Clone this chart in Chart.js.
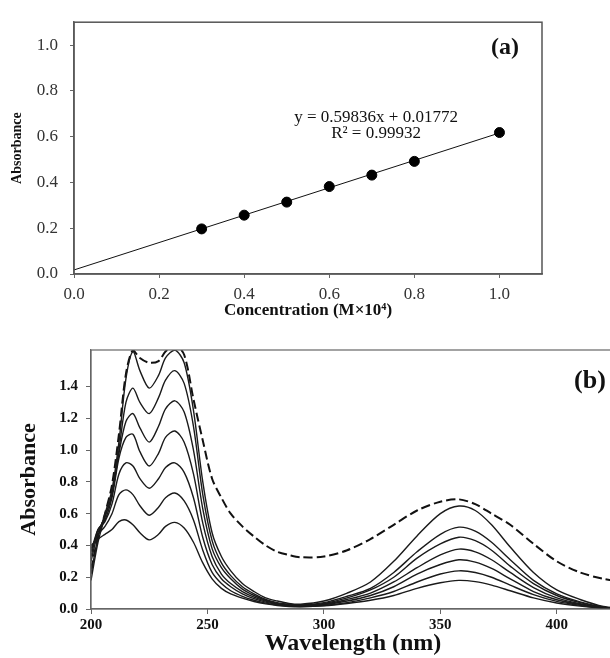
<!DOCTYPE html>
<html>
<head>
<meta charset="utf-8">
<script src="https://cdn.jsdelivr.net/npm/chart.js@4.4.1/dist/chart.umd.min.js"></script>
<style>
  html, body { margin: 0; padding: 0; background: #fff; overflow: hidden; }
  #boxA { position: absolute; left: 0; top: 0; width: 610px; height: 330px; }
  #boxB { position: absolute; left: 0; top: 330px; width: 620px; height: 328px; }
</style>
</head>
<body>
<div id="boxA"><canvas id="chartA"></canvas></div>
<div id="boxB"><canvas id="chartB"></canvas></div>
<script>
// (a) calibration
const CONC = [0.3, 0.4, 0.5, 0.6, 0.7, 0.8, 1.0];
const ABS_A = [0.197, 0.257, 0.314, 0.382, 0.432, 0.492, 0.618];
const SLOPE = 0.59836;
const INTERCEPT = 0.01772;
const R2 = 0.99932;
const A_TICKS = [0, 0.2, 0.4, 0.6, 0.8, 1.0];

// (b) spectra
const WAVE = [200, 203, 206, 209, 212, 215, 218, 221, 225, 229, 232, 236, 240, 244, 248, 252, 256, 260, 265, 270,
  275, 280, 285, 290, 300, 310, 320, 330, 340, 350, 358, 365, 372, 380, 390, 400, 410, 420, 430];
const SPEC_1 = [0.22, 0.45, 0.60, 0.75, 1.05, 1.45, 1.62, 1.50, 1.39, 1.47, 1.58, 1.63, 1.55, 1.25, 0.80, 0.48, 0.33, 0.24, 0.16, 0.11,
  0.07, 0.05, 0.035, 0.03, 0.05, 0.10, 0.17, 0.30, 0.46, 0.60, 0.648, 0.62, 0.53, 0.39, 0.23, 0.12, 0.06, 0.016, 0.0];
const SPEC_2 = [0.18, 0.42, 0.58, 0.72, 1.00, 1.30, 1.39, 1.30, 1.23, 1.33, 1.44, 1.50, 1.42, 1.15, 0.72, 0.43, 0.29, 0.21, 0.14, 0.095,
  0.06, 0.04, 0.03, 0.025, 0.04, 0.08, 0.13, 0.23, 0.36, 0.47, 0.515, 0.49, 0.42, 0.31, 0.18, 0.095, 0.045, 0.012, 0.0];
const SPEC_3 = [0.30, 0.48, 0.58, 0.72, 0.98, 1.18, 1.23, 1.14, 1.05, 1.15, 1.26, 1.31, 1.24, 1.00, 0.63, 0.38, 0.26, 0.19, 0.125, 0.085,
  0.055, 0.035, 0.027, 0.022, 0.035, 0.07, 0.12, 0.20, 0.32, 0.41, 0.452, 0.43, 0.37, 0.27, 0.16, 0.085, 0.04, 0.01, 0.0];
const SPEC_4 = [0.33, 0.50, 0.56, 0.70, 0.95, 1.08, 1.10, 0.99, 0.90, 0.98, 1.08, 1.12, 1.05, 0.85, 0.54, 0.33, 0.22, 0.16, 0.11, 0.075,
  0.05, 0.032, 0.024, 0.02, 0.03, 0.06, 0.10, 0.17, 0.26, 0.34, 0.377, 0.36, 0.31, 0.23, 0.135, 0.07, 0.033, 0.008, 0.0];
const SPEC_5 = [0.36, 0.50, 0.55, 0.66, 0.85, 0.92, 0.90, 0.82, 0.76, 0.82, 0.89, 0.92, 0.86, 0.70, 0.45, 0.28, 0.19, 0.14, 0.095, 0.065,
  0.043, 0.028, 0.02, 0.018, 0.027, 0.05, 0.085, 0.14, 0.22, 0.28, 0.31, 0.295, 0.255, 0.19, 0.11, 0.058, 0.028, 0.007, 0.0];
const SPEC_6 = [0.38, 0.47, 0.52, 0.60, 0.72, 0.75, 0.72, 0.65, 0.59, 0.64, 0.70, 0.73, 0.68, 0.56, 0.37, 0.23, 0.16, 0.115, 0.08, 0.055,
  0.037, 0.025, 0.018, 0.015, 0.022, 0.04, 0.07, 0.11, 0.17, 0.22, 0.24, 0.23, 0.20, 0.15, 0.09, 0.048, 0.023, 0.006, 0.0];
const SPEC_7 = [0.40, 0.44, 0.47, 0.50, 0.55, 0.56, 0.53, 0.48, 0.435, 0.47, 0.52, 0.545, 0.51, 0.42, 0.29, 0.19, 0.13, 0.095, 0.068, 0.047,
  0.032, 0.022, 0.016, 0.014, 0.02, 0.035, 0.055, 0.085, 0.13, 0.165, 0.18, 0.172, 0.15, 0.115, 0.07, 0.038, 0.018, 0.005, 0.0];
const SPEC_DASH = [0.25, 0.45, 0.60, 0.78, 1.10, 1.48, 1.63, 1.58, 1.55, 1.56, 1.62, 1.66, 1.60, 1.32, 1.06, 0.82, 0.70, 0.60, 0.52, 0.456,
  0.40, 0.36, 0.34, 0.326, 0.33, 0.37, 0.44, 0.53, 0.62, 0.675, 0.69, 0.66, 0.60, 0.53, 0.41, 0.30, 0.23, 0.19, 0.17];
const B_X_TICKS = [200, 250, 300, 350, 400];
const B_Y_TICKS = [0, 0.2, 0.4, 0.6, 0.8, 1.0, 1.2, 1.4];

const SERIF = "'Liberation Serif', 'Times New Roman', serif";

// box round the plot area
function framePlugin(color, width) {
  return {
    id: 'frame',
    afterDatasetsDraw(chart) {
      const { ctx, chartArea: a } = chart;
      ctx.save();
      ctx.strokeStyle = color;
      ctx.lineWidth = width;
      ctx.strokeRect(a.left, a.top, a.right - a.left, a.bottom - a.top);
      ctx.restore();
    }
  };
}

// free text placed in data units
function notesPlugin(items) {
  return {
    id: 'notes',
    afterDraw(chart) {
      const { ctx, scales } = chart;
      ctx.save();
      ctx.fillStyle = '#111';
      ctx.textBaseline = 'middle';
      items.forEach(n => {
        ctx.font = n.font;
        ctx.textAlign = n.align || 'center';
        ctx.fillText(n.text, scales.x.getPixelForValue(n.x), scales.y.getPixelForValue(n.y));
      });
      ctx.restore();
    }
  };
}

let chartA = new Chart(document.getElementById('chartA'), {
  type: 'scatter',
  data: {
    datasets: [
      {
        data: CONC.map((c, i) => ({ x: c, y: ABS_A[i] })),
        pointRadius: 5,
        backgroundColor: '#000',
        borderColor: '#000',
      },
      {
        data: [{ x: 0, y: INTERCEPT }, { x: 1, y: SLOPE + INTERCEPT }],
        showLine: true,
        pointRadius: 0,
        borderColor: '#111',
        borderWidth: 1,
      },
    ],
  },
  options: {
    responsive: true,
    maintainAspectRatio: false,
    animation: false,
    layout: { padding: { top: 15, right: 68, left: 0, bottom: 0 } },
    plugins: { legend: { display: false }, tooltip: { enabled: false } },
    scales: {
      x: {
        min: 0,
        max: 1.1,
        afterBuildTicks: s => { s.ticks = A_TICKS.map(v => ({ value: v })); },
        afterFit: s => { s.height = 56; },
        ticks: { font: { family: SERIF, size: 17 }, color: '#333', padding: 6, maxRotation: 0, callback: v => v.toFixed(1) },
        grid: { drawOnChartArea: false, tickLength: 4, color: '#666' },
        border: { color: '#666', width: 1.5 },
        title: {
          display: true,
          text: 'Concentration (M×10⁴)',
          font: { family: SERIF, size: 17, weight: 'bold' },
          color: '#111',
          padding: { top: 0, bottom: 9 },
        },
      },
      y: {
        min: 0,
        max: 1.1,
        afterBuildTicks: s => { s.ticks = A_TICKS.map(v => ({ value: v })); },
        afterFit: s => { s.width = 74; },
        ticks: { font: { family: SERIF, size: 17 }, color: '#333', padding: 12, callback: v => v.toFixed(1) },
        grid: { drawOnChartArea: false, tickLength: 4, color: '#666' },
        border: { color: '#666', width: 1.5 },
        title: {
          display: true,
          text: 'Absorbance',
          font: { family: SERIF, size: 14, weight: 'bold' },
          color: '#111',
          padding: { top: 9, bottom: 0 },
        },
      },
    },
  },
  plugins: [
    framePlugin('#555', 1.5),
    notesPlugin([
      { text: 'y = ' + SLOPE + 'x + ' + INTERCEPT, x: 0.71, y: 0.685, font: '17px ' + SERIF },
      { text: 'R² = ' + R2, x: 0.71, y: 0.612, font: '17px ' + SERIF },
      { text: '(a)', x: 1.013, y: 0.99, font: 'bold 24px ' + SERIF },
    ]),
  ],
});

const solid = [SPEC_1, SPEC_2, SPEC_3, SPEC_4, SPEC_5, SPEC_6, SPEC_7];
const specSets = solid.map(s => ({
  data: WAVE.map((w, i) => ({ x: w, y: s[i] })),
  borderColor: '#1a1a1a',
  borderWidth: 1.4,
  pointRadius: 0,
  tension: 0.3,
}));
specSets.push({
  data: WAVE.map((w, i) => ({ x: w, y: SPEC_DASH[i] })),
  borderColor: '#111',
  borderWidth: 2,
  borderDash: [9, 4],
  pointRadius: 0,
  tension: 0.3,
});

let chartB = new Chart(document.getElementById('chartB'), {
  type: 'line',
  data: { datasets: specSets },
  options: {
    responsive: true,
    maintainAspectRatio: false,
    animation: false,
    layout: { padding: { top: 20, right: 5, left: 0, bottom: 0 } },
    plugins: { legend: { display: false }, tooltip: { enabled: false } },
    scales: {
      x: {
        type: 'linear',
        min: 200,
        max: 425,
        afterBuildTicks: s => { s.ticks = B_X_TICKS.map(v => ({ value: v })); },
        afterFit: s => { s.height = 49; },
        ticks: { font: { family: SERIF, size: 15, weight: 'bold' }, color: '#111', padding: 2, maxRotation: 0 },
        grid: { drawOnChartArea: false, tickLength: 5, color: '#666' },
        border: { color: '#666', width: 1.2 },
        title: {
          display: true,
          text: 'Wavelength (nm)',
          font: { family: SERIF, size: 24, weight: 'bold' },
          color: '#111',
          padding: { top: 0, bottom: 0 },
        },
      },
      y: {
        min: 0,
        max: 1.63,
        afterBuildTicks: s => { s.ticks = B_Y_TICKS.map(v => ({ value: v })); },
        afterFit: s => { s.width = 91; },
        ticks: { font: { family: SERIF, size: 15, weight: 'bold' }, color: '#111', padding: 8, callback: v => v.toFixed(1) },
        grid: { drawOnChartArea: false, tickLength: 5, color: '#666' },
        border: { color: '#666', width: 1.2 },
        title: {
          display: true,
          text: 'Absorbance',
          font: { family: SERIF, size: 22, weight: 'bold' },
          color: '#111',
          padding: { top: 16, bottom: 0 },
        },
      },
    },
  },
  plugins: [
    framePlugin('#666', 1.2),
    notesPlugin([
      { text: '(b)', x: 407.4, y: 1.434, font: 'bold 26px ' + SERIF, align: 'left' },
    ]),
  ],
});
</script>
</body>
</html>
